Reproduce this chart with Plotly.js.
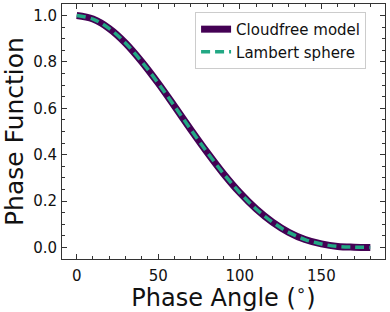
<!DOCTYPE html>
<html>
<head>
<meta charset="utf-8">
<script src="https://cdn.plot.ly/plotly-3.0.1.min.js"></script>
<style>html,body{margin:0;padding:0;background:#fff;}#chart{width:390px;height:312px;}</style>
</head>
<body>
<div id="chart"></div>
<script>
// Phase angle (degrees)
var phaseAngle = [0, 10, 20, 30, 40, 50, 60, 70, 80, 90, 100, 110, 120, 130, 140, 150, 160, 170, 180];
// Cloudfree model phase function
var cloudfreeModel = [1.0, 0.985, 0.944, 0.881, 0.800, 0.708, 0.609, 0.508, 0.410, 0.318, 0.236, 0.166, 0.109, 0.065, 0.034, 0.015, 0.004, 0.001, 0.0];
// Lambert sphere phase function
var lambertSphere = [1.0, 0.985, 0.944, 0.881, 0.800, 0.708, 0.609, 0.508, 0.410, 0.318, 0.236, 0.166, 0.109, 0.065, 0.034, 0.015, 0.004, 0.001, 0.0];
var seriesNames = ["Cloudfree model", "Lambert sphere"];
var xTicks = [0, 50, 100, 150];
var yTicks = [0.0, 0.2, 0.4, 0.6, 0.8, 1.0];
var yTickText = ["0.0", "0.2", "0.4", "0.6", "0.8", "1.0"];

var font = "DejaVu Sans, sans-serif";
var traces = [
  {x: phaseAngle, y: cloudfreeModel, name: seriesNames[0], mode: "lines",
   line: {color: "#440154", width: 7, shape: "spline"}},
  {x: phaseAngle, y: lambertSphere, name: seriesNames[1], mode: "lines",
   line: {color: "#22a884", width: 3.5, dash: "9px,5px", shape: "spline"}}
];
var axisCommon = {
  showgrid: false, zeroline: false, showline: true, linecolor: "#333", linewidth: 1,
  mirror: "allticks", ticks: "inside", ticklen: 5, tickwidth: 1, tickcolor: "#333",
  tickfont: {family: font, size: 15, color: "#111"},
  minor: {ticks: "inside", ticklen: 3, tickwidth: 1, tickcolor: "#333"}
};
var layout = {
  width: 390, height: 312,
  margin: {l: 62, r: 5, t: 4, b: 53},
  paper_bgcolor: "#fff", plot_bgcolor: "#fff",
  font: {family: font, color: "#111"},
  showlegend: true,
  xaxis: Object.assign({}, axisCommon, {
    range: [-9, 189], tickvals: xTicks, ticktext: xTicks.map(String),
    minor: Object.assign({}, axisCommon.minor, {dtick: 10, tick0: 0}),
    ticklabelstandoff: 3,
    title: {text: "Phase Angle (<sup>∘</sup>)", font: {family: font, size: 24, color: "#111"}, standoff: 4}
  }),
  yaxis: Object.assign({}, axisCommon, {
    range: [-0.05, 1.05], tickvals: yTicks, ticktext: yTickText,
    minor: Object.assign({}, axisCommon.minor, {dtick: 0.05, tick0: 0}),
    ticklabelstandoff: 1,
    title: {text: "Phase Function", font: {family: font, size: 25, color: "#111"}, standoff: 4}
  }),
  legend: {
    x: 0.412, y: 0.969, xanchor: "left", yanchor: "top",
    bgcolor: "#fff", bordercolor: "#ccc", borderwidth: 1,
    font: {family: font, size: 15, color: "#111"},
    itemwidth: 30
  }
};
Plotly.newPlot("chart", traces, layout, {staticPlot: true});
</script>
</body>
</html>
